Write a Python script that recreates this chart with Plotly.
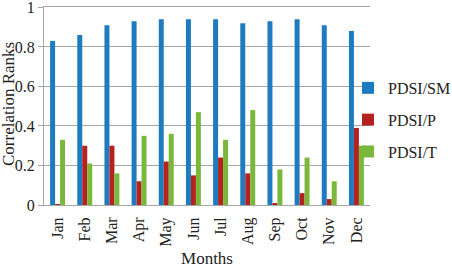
import plotly.graph_objects as go

months = ["Jan", "Feb", "Mar", "Apr", "May", "Jun", "Jul", "Aug", "Sep", "Oct", "Nov", "Dec"]
pdsi_sm = [0.83, 0.86, 0.91, 0.93, 0.94, 0.94, 0.94, 0.92, 0.93, 0.94, 0.91, 0.88]
pdsi_p = [0.005, 0.30, 0.30, 0.12, 0.22, 0.15, 0.24, 0.16, 0.01, 0.06, 0.03, 0.39]
pdsi_t = [0.33, 0.21, 0.16, 0.35, 0.36, 0.47, 0.33, 0.48, 0.18, 0.24, 0.12, 0.30]
y_ticks = [0, 0.2, 0.4, 0.6, 0.8, 1]
y_labels = ["0", "0.2", "0.4", "0.6", "0.8", "1"]

FONT = "Liberation Serif"
GRID = "#a6a6a6"
fig = go.Figure()
series = [("PDSI/SM", pdsi_sm, "#1f7bbf"), ("PDSI/P", pdsi_p, "#b5211f"), ("PDSI/T", pdsi_t, "#7ab83c")]
for name, vals, col in series:
    fig.add_trace(go.Bar(x=months, y=vals, name=name, marker_color=col, marker_line_width=0, legendgroup=name))

fig.update_layout(
    width=452, height=268,
    margin=dict(l=44, r=82, t=7, b=63, autoexpand=False),
    paper_bgcolor="white", plot_bgcolor="white",
    barmode="group", bargap=0.45, bargroupgap=0,
    font=dict(family=FONT, size=15, color="#222"),
    showlegend=True,
    legend=dict(x=0.9325, xanchor="left", y=0.677, yanchor="top", font=dict(size=16, family=FONT, color="#222"),
                tracegroupgap=8, bgcolor="rgba(0,0,0,0)", traceorder="grouped"),
    annotations=[dict(text="Correlation Ranks", xref="paper", yref="paper", x=-0.1104, y=0.51,
                      xanchor="center", yanchor="middle", textangle=-90, showarrow=False,
                      font=dict(size=17, family=FONT, color="#222"))],
)
fig.update_xaxes(tickangle=-90, tickfont=dict(size=16, family=FONT, color="#222"), showgrid=False,
                 showline=True, mirror=True, linecolor=GRID, linewidth=1, ticks="", ticklabelstandoff=5,
                 title=dict(text="Months", font=dict(size=17, family=FONT, color="#222"), standoff=12))
fig.update_yaxes(range=[0, 1.002], tickvals=y_ticks, ticktext=y_labels, showgrid=True, gridcolor=GRID,
                 gridwidth=1, showline=True, linecolor=GRID, linewidth=1, ticks="outside", ticklen=5,
                 tickcolor=GRID, zeroline=True, zerolinecolor=GRID, zerolinewidth=1,
                 ticklabeloverflow="allow",
                 tickfont=dict(size=16, family=FONT, color="#222"))
fig.write_html("out.html")
